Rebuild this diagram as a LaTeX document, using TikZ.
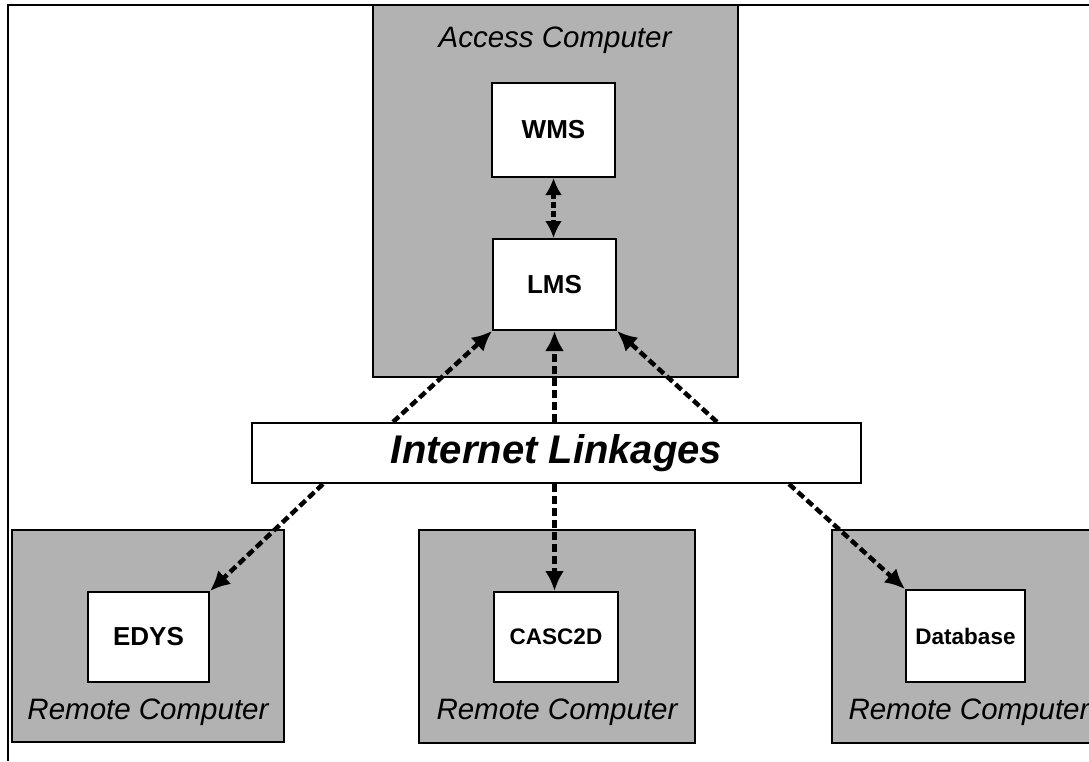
\documentclass[tikz,border=0pt]{standalone}
\usepackage{fontspec}
\setmainfont{Liberation Sans}
\usetikzlibrary{arrows.meta}
\definecolor{shade}{RGB}{178,178,178}
\begin{document}
\begin{tikzpicture}[x=1pt,y=-1pt,
  computer/.style={draw=black, line width=2pt, fill=shade, rectangle, inner sep=0pt},
  appbox/.style={draw=black, line width=2pt, fill=white, rectangle, inner sep=0pt, font=\bfseries\fontsize{26}{26}\selectfont},
  smallapp/.style={appbox, font=\bfseries\fontsize{22.5}{22.5}\selectfont},
  complabel/.style={font=\itshape\fontsize{29.5}{29.5}\selectfont, inner sep=0pt},
  link/.style={line width=4.5pt, dash pattern=on 8pt off 4pt, -{Latex[length=20pt,width=19pt]}},
  dlink/.style={line width=4.5pt, dash pattern=on 6pt off 3pt, {Latex[length=17pt,width=17pt]}-{Latex[length=17pt,width=17pt]}}
]
\useasboundingbox (0,0) rectangle (1089,761);
% frame
\draw[line width=2.5pt] (8,761) -- (8,5) -- (1089,5);
% access computer
\node[computer, minimum width=365pt, minimum height=372pt] (acc) at (555.5,191) {};
\node[complabel] (acclabel) at (555,40) {Access Computer};
\node[appbox, minimum width=123pt, minimum height=94pt] (wms) at (553.5,130) {WMS};
\node[appbox, minimum width=123pt, minimum height=91pt] (lms) at (554.5,284.5) {LMS};
% internet
\node[draw=black, line width=2pt, fill=white, inner sep=0pt, minimum width=609pt, minimum height=60pt,
      font=\bfseries\itshape\fontsize{40}{40}\selectfont] (inet) at (556.5,453) {Internet Linkages};
% remote computers
\node[computer, minimum width=272pt, minimum height=212pt] (rc1) at (148,636) {};
\node[complabel] (rc1label) at (148,712) {Remote Computer};
\node[appbox, minimum width=121pt, minimum height=90pt] (edys) at (148.5,637) {EDYS};
\node[computer, minimum width=276pt, minimum height=213pt] (rc2) at (557,636.5) {};
\node[complabel] (rc2label) at (557,712) {Remote Computer};
\node[smallapp, minimum width=124pt, minimum height=90pt] (casc) at (556,637) {CASC2D};
\node[computer, minimum width=274pt, minimum height=213pt] (rc3) at (969,636.5) {};
\node[complabel] (rc3label) at (969,712) {Remote Computer};
\node[smallapp, minimum width=119pt, minimum height=92pt] (db) at (965.5,636) {Database};
% connector ends on the internet box
\path (inet.north) ++(-163.5,0) coordinate (ul);
\path (inet.north) ++(-2,0) coordinate (um);
\path (inet.north) ++(160.5,0) coordinate (ur);
\path (inet.south) ++(-233.5,0) coordinate (ll);
\path (inet.south) ++(-2,0) coordinate (lm);
\path (inet.south) ++(232.5,0) coordinate (lr);
% connectors
\draw[dlink] (wms.south) -- (wms.south |- lms.north);
\draw[link] (ul) -- (lms.south west);
\draw[link] (um) -- (um |- lms.south);
\draw[link] (ur) -- (lms.south east);
\draw[link] (ll) -- (edys.north east);
\draw[link] (lm) -- (lm |- casc.north);
\draw[link] (lr) -- (db.north west);
\end{tikzpicture}
\end{document}
